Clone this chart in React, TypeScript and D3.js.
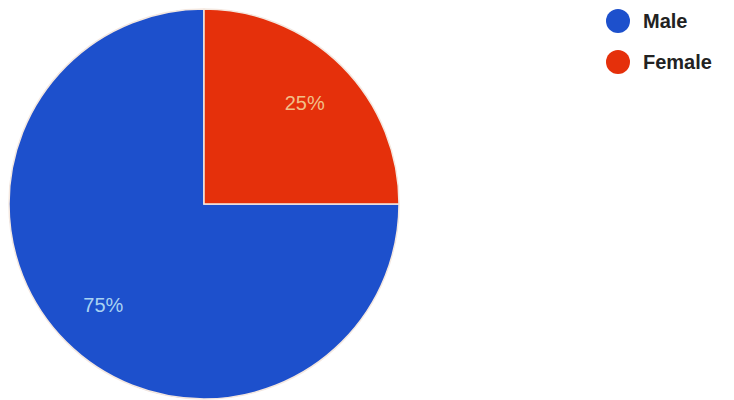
import React from "react";
import * as d3 from "d3";

const categories = ["Male", "Female"];
const values = [75, 25];
const labels = ["75%", "25%"];
const colors = ["#1d50cc", "#e5300b"];
const labelColors = ["#a9d3f2", "#f2bf88"];

export default function App() {
  const width = 734;
  const height = 400;
  const cx = 204;
  const cy = 204;
  const r = 195;
  // Start at 3 o'clock going clockwise so Female occupies the top-right quadrant
  const pie = d3
    .pie<number>()
    .sort(null)
    .startAngle(Math.PI / 2)
    .endAngle(Math.PI / 2 + 2 * Math.PI)
    .value((d) => d);
  const arcs = pie(values);
  const arc = d3.arc<d3.PieArcDatum<number>>().innerRadius(0).outerRadius(r);
  const labelArc = d3
    .arc<d3.PieArcDatum<number>>()
    .innerRadius(r * 0.73)
    .outerRadius(r * 0.73);
  const legendY = d3.scalePoint<string>().domain(categories).range([21, 62]);

  return (
    <svg
      width={width}
      height={height}
      style={{ position: "absolute", left: 0, top: 0, background: "#fff" }}
    >
      <g transform={`translate(${cx},${cy})`}>
        {arcs.map((a, i) => (
          <path
            key={i}
            d={arc(a) || ""}
            fill={colors[i]}
            stroke="#f4e8e0"
            strokeWidth={1.5}
          />
        ))}
        {arcs.map((a, i) => {
          const [x, y] = labelArc.centroid(a);
          return (
            <text
              key={"l" + i}
              x={x}
              y={y}
              textAnchor="middle"
              dominantBaseline="central"
              fontFamily="Liberation Sans, Arial, sans-serif"
              fontSize={20}
              fill={labelColors[i]}
            >
              {labels[i]}
            </text>
          );
        })}
      </g>
      {categories.map((c, i) => (
        <g key={c} transform={`translate(618,${legendY(c)})`}>
          <circle r={12} fill={colors[i]} />
          <text
            x={25}
            y={7}
            fontFamily="Liberation Sans, Arial, sans-serif"
            fontSize={20}
            fontWeight={600}
            fill="#222"
          >
            {c}
          </text>
        </g>
      ))}
    </svg>
  );
}
